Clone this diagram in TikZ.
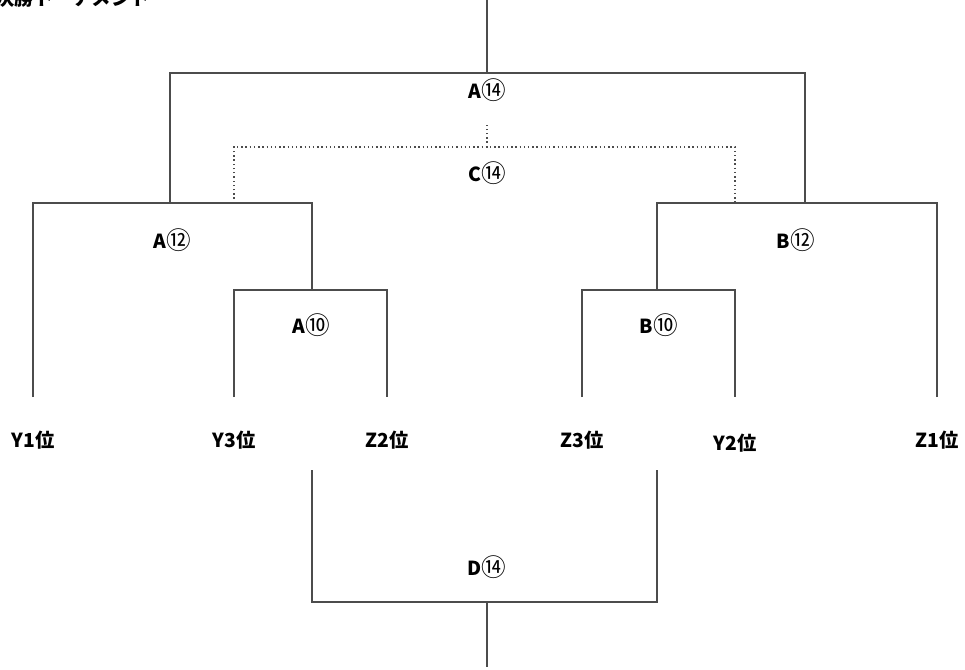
\documentclass[tikz,border=0pt]{standalone}
\usepackage{fontspec}
\setmainfont{Noto Sans CJK JP}
\usepackage{tikz}

\newcommand{\circnum}[1]{{\mdseries\fontsize{14}{13}\selectfont\raisebox{-0.4pt}{#1}}}

\begin{document}
\begin{tikzpicture}[
  x=0.02cm, y=-0.02cm,
  line/.style={draw=black!70, line width=0.8pt},
  dots/.style={draw=black!70, line width=0.8pt, dash pattern=on 0.8pt off 1.6pt},
  match/.style={font=\bfseries\fontsize{11}{13}\selectfont, inner sep=1pt},
  team/.style={font=\bfseries\fontsize{11}{13}\selectfont, inner sep=1pt}
]
\useasboundingbox (0,0) rectangle (965,670);

\node[anchor=west, inner sep=0, font=\bfseries\fontsize{11}{13}\selectfont] (title) at (-5,-2) {決勝トーナメント};

% teams
\node[team] (y1) at (33,440) {Y1位};
\node[team] (y3) at (234,440) {Y3位};
\node[team] (z2) at (387,440) {Z2位};
\node[team] (z3) at (582,440) {Z3位};
\node[team] (y2) at (735,443) {Y2位};
\node[team] (z1) at (937,440) {Z1位};

% line ends above the teams
\coordinate (y1e) at (33,397);
\coordinate (y3e) at (234,397);
\coordinate (z2e) at (387,397);
\coordinate (z3e) at (582,397);
\coordinate (y2e) at (735,397);
\coordinate (z1e) at (937,397);

% matches
\node[match] (a10) at (311,325) {A\circnum{⑩}};
\node[match] (b10) at (659,325) {B\circnum{⑩}};
\node[match] (a12) at (172,240) {A\circnum{⑫}};
\node[match] (b12) at (796,240) {B\circnum{⑫}};
\node[match] (a14) at (487,90) {A\circnum{⑭}};
\node[match] (c14) at (487,173) {C\circnum{⑭}};
\node[match] (d14) at (487,567) {D\circnum{⑭}};

\coordinate (a10j) at (312,290);
\coordinate (b10j) at (657,290);
\coordinate (a12j) at (170,203);
\coordinate (b12j) at (805,203);
\coordinate (a14j) at (487,73);
\coordinate (top) at (487,0);
\coordinate (c14j) at (487,147);
\coordinate (c14t) at (487,123);
\coordinate (c14l) at (234,203);
\coordinate (c14r) at (735,203);
\coordinate (d14l) at (312,470);
\coordinate (d14r) at (657,470);
\coordinate (d14j) at (487,602);
\coordinate (bottom) at (487,667);

\draw[line] (y3e) |- (a10j) -| (z2e);
\draw[line] (z3e) |- (b10j) -| (y2e);
\draw[line] (y1e) |- (a10j |- a12j) -- (a10j);
\draw[line] (z1e) |- (b10j |- b12j) -- (b10j);
\draw[line] (a12j) -- (a12j |- a14j) -| (b12j);
\draw[line] (a14j) -- (top);

\draw[dots] (c14l) |- (c14j) -| (c14r);
\draw[dots] (c14j) -- (c14t);

\draw[line] (d14l) |- (d14j) -| (d14r);
\draw[line] (d14j) -- (bottom);
\end{tikzpicture}
\end{document}
